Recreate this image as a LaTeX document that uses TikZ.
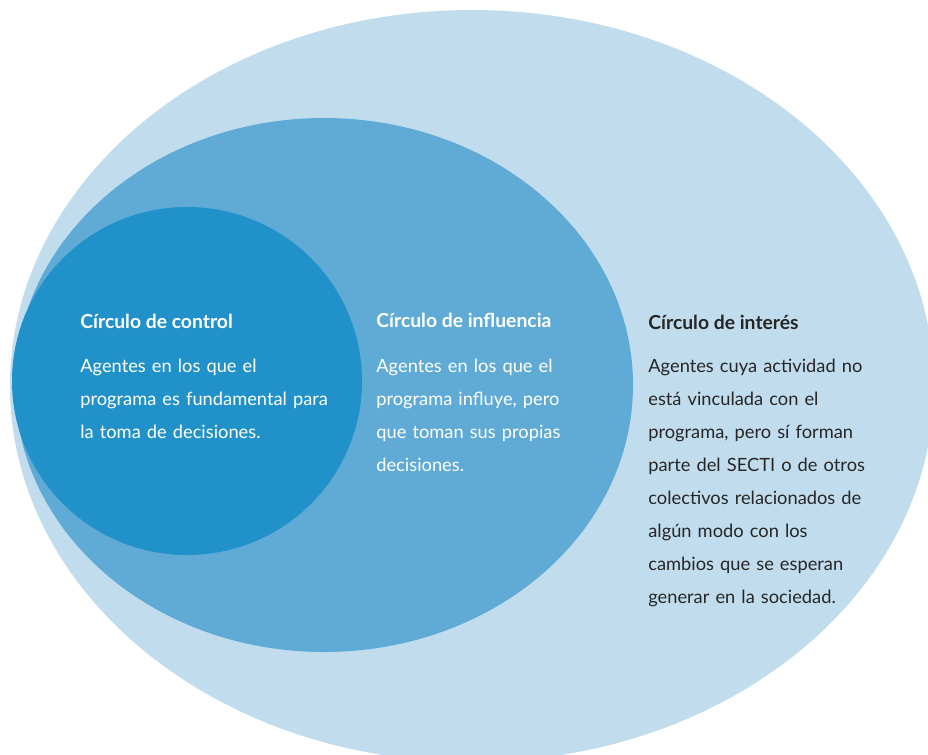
\documentclass[tikz,border=0pt]{standalone}
\usepackage{fontspec}
\setmainfont{Lato}
\usepackage{xcolor}
\usetikzlibrary{positioning}

\definecolor{azulclaro}{HTML}{C1DDED}
\definecolor{azulmedio}{HTML}{5FABD6}
\definecolor{azulfuerte}{HTML}{2192C9}
\definecolor{textogris}{HTML}{262626}

\tikzset{
  titulo/.style={anchor=base west,inner sep=0pt,font=\bfseries\fontsize{11}{13}\selectfont},
  cuerpo/.style={anchor=base west,inner sep=0pt,align=left,text width=6cm,
    font=\fontsize{10.4}{18.8}\selectfont},
}

\begin{document}
\begin{tikzpicture}[x=0.02cm,y=-0.02cm]
    \useasboundingbox (0,0) rectangle (928,754);
    \clip (0,0) rectangle (928,754);
    % the three circles
    \fill[azulclaro] (472,386) ellipse [x radius=462, y radius=376];
    \fill[azulmedio] (324,385) ellipse [x radius=309, y radius=267];
    \fill[azulfuerte] (187,381) ellipse [x radius=175, y radius=174];

    % control
    \node[titulo,text=white] (tcontrol) at (80,328) {Círculo de control};
    \node[cuerpo,text=white,below=0.88cm of tcontrol.base west,anchor=base west] (bcontrol)
        {Agentes en los que el\\programa es fundamental para\\la toma de decisiones.};
    % influencia
    \node[titulo,text=white] (tinfluencia) at (376,327) {Círculo de influencia};
    \node[cuerpo,text=white,below=0.9cm of tinfluencia.base west,anchor=base west] (binfluencia)
        {Agentes en los que el\\programa influye, pero\\que toman sus propias\\decisiones.};
    % interes
    \node[titulo,text=textogris] (tinteres) at (648,329) {Círculo de interés};
    \node[cuerpo,text=textogris,below=0.86cm of tinteres.base west,anchor=base west] (binteres)
        {Agentes cuya actividad no\\está vinculada con el\\programa, pero sí forman\\parte del SECTI o de otros\\colectivos relacionados de\\algún modo con los\\cambios que se esperan\\generar en la sociedad.};
\end{tikzpicture}
\end{document}
